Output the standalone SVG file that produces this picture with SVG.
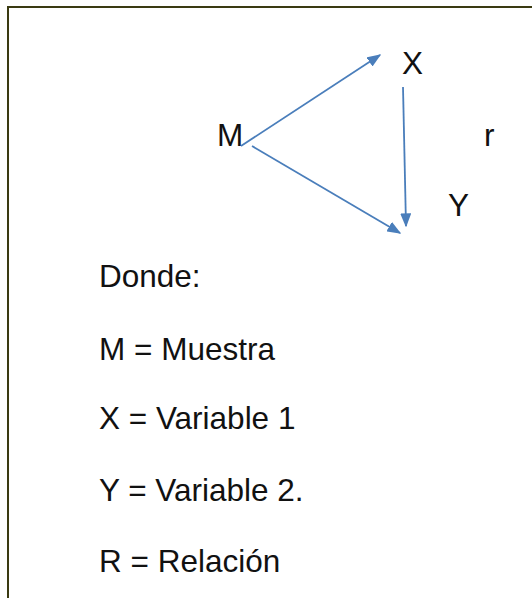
<svg xmlns="http://www.w3.org/2000/svg" width="532" height="598" viewBox="0 0 532 598">
<defs>
<style>
.t{font-family:"Liberation Sans",Arial,sans-serif;font-size:31.5px;fill:#111}
.c{stroke:#4a7ebb;stroke-width:1.8;fill:none}
</style>
<marker id="ah" viewBox="0 0 10 10" refX="9" refY="5" markerWidth="14" markerHeight="11" markerUnits="userSpaceOnUse" orient="auto" preserveAspectRatio="none">
<path d="M0,0 L10,5 L0,10 z" fill="#4a7ebb"/>
</marker>
</defs>
<rect x="0" y="0" width="532" height="598" fill="#fff"/>
<rect x="8" y="7" width="540" height="620" fill="none" stroke="#3a3a12" stroke-width="2"/>
<g id="connectors">
<line class="c" x1="241" y1="146" x2="380" y2="55" marker-end="url(#ah)"/>
<line class="c" x1="252" y1="146" x2="400" y2="233" marker-end="url(#ah)"/>
<line class="c" x1="403" y1="87" x2="406" y2="226" marker-end="url(#ah)"/>
</g>
<g id="node-X"><text class="t" x="402" y="74">X</text></g>
<g id="node-M"><text class="t" x="217" y="146">M</text></g>
<g id="node-r"><text class="t" x="484" y="146">r</text></g>
<g id="node-Y"><text class="t" x="448" y="216">Y</text></g>
<g id="legend">
<text class="t" x="99" y="287">Donde:</text>
<text class="t" x="99" y="360">M = Muestra</text>
<text class="t" x="99" y="429">X = Variable 1</text>
<text class="t" x="99" y="501">Y = Variable 2.</text>
<text class="t" x="99" y="572">R = Relación</text>
</g>
</svg>
